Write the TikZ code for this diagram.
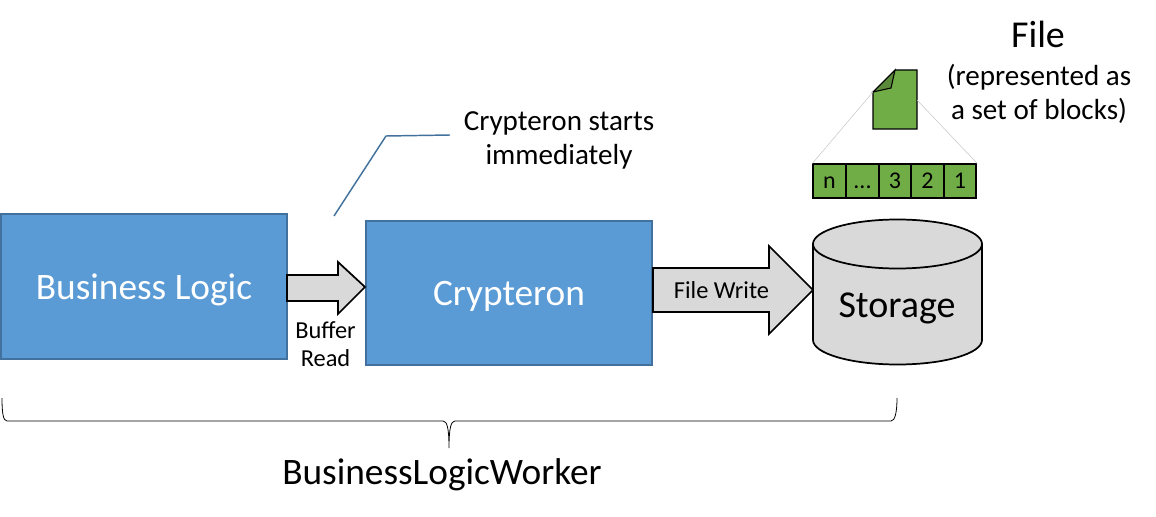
\documentclass[tikz,border=0pt]{standalone}
\usepackage{fontspec}
\setmainfont{Carlito}
\definecolor{box_blue}{RGB}{91,155,213}
\definecolor{edge_blue}{RGB}{65,113,156}
\definecolor{arrow_gray}{RGB}{217,217,217}
\definecolor{file_green}{RGB}{112,173,71}
\definecolor{fold_green}{RGB}{90,138,57}
\definecolor{zoom_gray}{RGB}{200,200,200}
\begin{document}
\begin{tikzpicture}[x=0.75pt,y=-0.75pt,semithick]
    \tikzstyle{module}=[draw=edge_blue, line width=1.5pt, fill=box_blue, text=white, font=\fontsize{28}{34}\selectfont, inner sep=0pt]
    \tikzstyle{pipe}=[draw=black, line width=1.3pt, fill=arrow_gray, line join=miter]
    \tikzstyle{blockcell}=[draw=black, line width=1.3pt, fill=file_green, minimum width=24.5pt, minimum height=25pt, inner sep=0pt, text height=11pt, text depth=0pt, font=\fontsize{18}{22}\selectfont]
    \tikzstyle{caption}=[align=center, inner sep=0pt, font=\fontsize{21.8}{26}\selectfont]
    \useasboundingbox (0,0) rectangle (1156,517);

    \node[module, minimum width=214.5pt, minimum height=108.5pt] (logic) at (144,286.5) {};
    \node[module, minimum width=215pt, minimum height=108pt] (crypteron) at (509,292.5) {};
    \node[inner sep=0pt, text=white, font=\fontsize{28}{34}\selectfont] (logiclabel) at (144,289.5) {Business Logic};
    \node[inner sep=0pt, text=white, font=\fontsize{28}{34}\selectfont] (crypteronlabel) at (509,296.5) {Crypteron};

    % arrows
    \coordinate (bufferend) at (287,287);
    \coordinate (writeend) at (653,291);
    \draw[pipe] (bufferend |- 0,275) -- (338,275) -- (338,262) -- (365,287) -- (338,314) -- (338,301) -- (bufferend |- 0,301) -- cycle;
    \draw[pipe] (writeend |- 0,268) -- (769,268) -- (769,246) -- (813,290) -- (769,334) -- (769,312) -- (writeend |- 0,312) -- cycle;
    \node[inner sep=0pt, align=center, font=\fontsize{18.3}{21}\selectfont] (bufferlabel) at (325.5,344) {Buffer\\Read};
    \node[inner sep=0pt, font=\fontsize{18.3}{22}\selectfont] (writelabel) at (721.5,290) {File Write};

    % storage
    \draw[pipe] (813,244) -- (813,340) arc[start angle=180, end angle=0, x radius=84.5, y radius=24.5] -- (982,244) -- cycle;
    \draw[pipe] (897.5,244) ellipse[x radius=84.5, y radius=24.5];
    \node[inner sep=0pt, font=\fontsize{28.5}{34}\selectfont] (storage) at (897,308) {Storage};

    % callout
    \coordinate (calloutend) at (334,216);
    \node[caption] (starts) at (559,140.5) {Crypteron starts\\immediately};
    \draw[edge_blue, line width=1.1pt] (calloutend) -- (386,136) -- (450,135);

    % file
    \draw[draw=black, line width=0.8pt, fill=file_green] (895,70) -- (917,70) -- (917,129) -- (873,129) -- (873,92) -- cycle;
    \draw[draw=black, line width=0.8pt, fill=fold_green] (895,70) -- (891,88) -- (873,92) -- cycle;
    \node[inner sep=0pt, font=\fontsize{28.5}{34}\selectfont] (filetitle) at (1038,34) {File};
    \node[caption, font=\fontsize{21.8}{25}\selectfont] (filenote) at (1039,94) {(represented as\\a set of blocks)};

    % blocks
    \node[blockcell] (bn) at (829.5,181) {n};
    \node[blockcell] (bdots) at (862.5,181) {...};
    \node[blockcell] (b3) at (895,181) {3};
    \node[blockcell] (b2) at (927.5,181) {2};
    \node[blockcell] (b1) at (960,181) {1};
    \draw[zoom_gray, thin] (873,92) -- (bn.north west);
    \draw[zoom_gray, thin] (917,100) -- (b1.north east);

    % brace
    \draw[line width=0.6pt] (2,398) .. controls (2,412) and (3,421) .. (7,421) -- (443,421) .. controls (447,421) and (449,428) .. (449,448) .. controls (449,428) and (451,421) .. (455,421) -- (891,421) .. controls (895,421) and (897,412) .. (897,398);
    \node[inner sep=0pt, font=\fontsize{28}{34}\selectfont] (worker) at (442,475) {BusinessLogicWorker};
\end{tikzpicture}
\end{document}
